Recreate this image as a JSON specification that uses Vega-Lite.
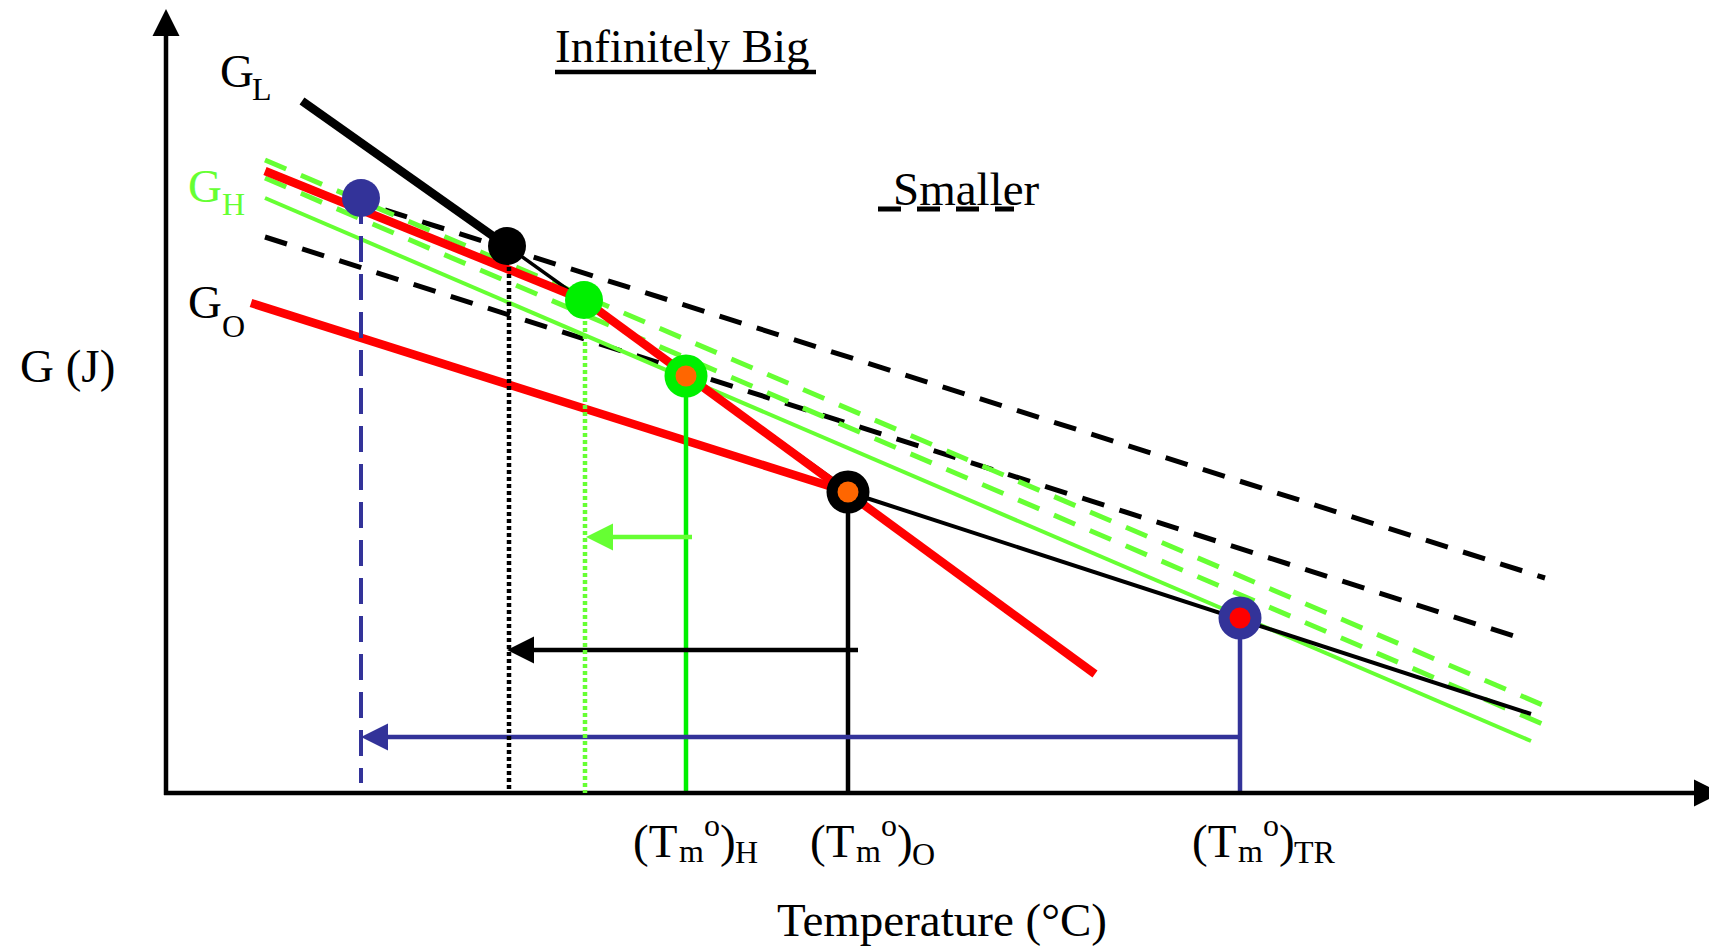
{
  "$schema": "https://vega.github.io/schema/vega-lite/v6.json",
  "width": 1709,
  "height": 948,
  "padding": 0,
  "autosize": {"type": "none"},
  "background": "white",
  "config": {"view": {"stroke": null}},
  "datasets": {
    "segs": [
      {"kind": "black", "line": "dash", "x": 385, "y": 210, "x2": 1545, "y2": 578},
      {"kind": "black", "line": "dash", "x": 265, "y": 237, "x2": 1520, "y2": 638},
      {"kind": "lgreen", "line": "dash", "x": 265, "y": 160, "x2": 1545, "y2": 706},
      {"kind": "lgreen", "line": "dash", "x": 265, "y": 178, "x2": 1545, "y2": 725},
      {"kind": "black", "line": "dash", "x": 878, "y": 209, "x2": 1014, "y2": 209},
      {"kind": "lgreen", "line": "solidA", "x": 265, "y": 198, "x2": 1531, "y2": 741},
      {"kind": "black", "line": "solidA", "x": 848, "y": 492, "x2": 1531, "y2": 714},
      {"kind": "black", "line": "fine", "x": 507, "y": 246, "x2": 848, "y2": 490},
      {"kind": "red", "line": "heavy", "x": 265, "y": 171, "x2": 584, "y2": 300},
      {"kind": "red", "line": "heavy", "x": 584, "y": 300, "x2": 1095, "y2": 674},
      {"kind": "red", "line": "heavy", "x": 251, "y": 303, "x2": 848, "y2": 492},
      {"kind": "black", "line": "heavy", "x": 302, "y": 101, "x2": 507, "y2": 246},
      {"kind": "green", "line": "solidB", "x": 686, "y": 376, "x2": 686, "y2": 793},
      {"kind": "black", "line": "solidB", "x": 848, "y": 492, "x2": 848, "y2": 793},
      {"kind": "blue", "line": "solidB", "x": 1240, "y": 618, "x2": 1240, "y2": 793},
      {"kind": "lgreen", "line": "solidB", "x": 692, "y": 537, "x2": 600, "y2": 537},
      {"kind": "black", "line": "solidB", "x": 858, "y": 650, "x2": 520, "y2": 650},
      {"kind": "blue", "line": "solidB", "x": 1240, "y": 737, "x2": 375, "y2": 737},
      {"kind": "black", "line": "solidB", "x": 166, "y": 795, "x2": 166, "y2": 30},
      {"kind": "black", "line": "solidB", "x": 164, "y": 793, "x2": 1700, "y2": 793},
      {"kind": "black", "line": "solidB", "x": 555, "y": 72, "x2": 816, "y2": 72},
      {"kind": "blue", "line": "longdash", "x": 361, "y": 198, "x2": 361, "y2": 783},
      {"kind": "black", "line": "dot", "x": 509, "y": 246, "x2": 509, "y2": 793},
      {"kind": "lgreen", "line": "dot", "x": 585, "y": 300, "x2": 585, "y2": 793}
    ],
    "dots": [
      {"kind": "blue", "x": 361, "y": 198},
      {"kind": "black", "x": 507, "y": 246},
      {"kind": "green", "x": 584, "y": 300}
    ],
    "rings": [
      {"kind": "green", "x": 686, "y": 376},
      {"kind": "black", "x": 848, "y": 492},
      {"kind": "blue", "x": 1240, "y": 618}
    ],
    "cores": [
      {"kind": "orange", "x": 686, "y": 376},
      {"kind": "orange", "x": 848, "y": 492},
      {"kind": "red", "x": 1240, "y": 618}
    ],
    "heads": [
      {"kind": "lgreen", "dir": "left", "x": 599.5, "y": 537},
      {"kind": "black", "dir": "left", "x": 520.5, "y": 650},
      {"kind": "blue", "dir": "left", "x": 374.5, "y": 737},
      {"kind": "black", "dir": "up", "x": 166, "y": 22.5},
      {"kind": "black", "dir": "right", "x": 1707.5, "y": 793}
    ],
    "mainText": [
      {"kind": "black", "x": 555, "y": 62, "text": "Infinitely Big"},
      {"kind": "black", "x": 893, "y": 205, "text": "Smaller"},
      {"kind": "black", "x": 220, "y": 87, "text": "G"},
      {"kind": "lgreen", "x": 188, "y": 202, "text": "G"},
      {"kind": "black", "x": 188, "y": 318, "text": "G"},
      {"kind": "black", "x": 20, "y": 382, "text": "G (J)"},
      {"kind": "black", "x": 633, "y": 857, "text": "(T"},
      {"kind": "black", "x": 720, "y": 857, "text": ")"},
      {"kind": "black", "x": 810, "y": 857, "text": "(T"},
      {"kind": "black", "x": 897, "y": 857, "text": ")"},
      {"kind": "black", "x": 1192, "y": 857, "text": "(T"},
      {"kind": "black", "x": 1279, "y": 857, "text": ")"},
      {"kind": "black", "x": 777, "y": 936, "text": "Temperature (°C)"}
    ],
    "subText": [
      {"kind": "black", "x": 252, "y": 100, "text": "L"},
      {"kind": "lgreen", "x": 222, "y": 215, "text": "H"},
      {"kind": "black", "x": 222, "y": 337, "text": "O"},
      {"kind": "black", "x": 679, "y": 862, "text": "m"},
      {"kind": "black", "x": 856, "y": 862, "text": "m"},
      {"kind": "black", "x": 1238, "y": 862, "text": "m"},
      {"kind": "black", "x": 704, "y": 836, "text": "o"},
      {"kind": "black", "x": 881, "y": 836, "text": "o"},
      {"kind": "black", "x": 1263, "y": 836, "text": "o"},
      {"kind": "black", "x": 735, "y": 863, "text": "H"},
      {"kind": "black", "x": 912, "y": 865, "text": "O"},
      {"kind": "black", "x": 1294, "y": 863, "text": "TR"}
    ]
  },
  "encoding": {
    "x": {"field": "x", "type": "quantitative", "scale": {"domain": [0, 1709], "nice": false, "zero": false}, "axis": null},
    "y": {"field": "y", "type": "quantitative", "scale": {"domain": [0, 948], "nice": false, "zero": false, "reverse": true}, "axis": null},
    "color": {
      "field": "kind", "type": "nominal", "legend": null,
      "scale": {"domain": ["black", "red", "lgreen", "green", "blue", "orange"], "range": ["#000000", "#ff0000", "#66ff33", "#00f000", "#333399", "#ff6600"]}
    }
  },
  "layer": [
    {"data": {"name": "segs"}, "transform": [{"filter": "datum.line == 'dash'"}],
     "mark": {"type": "rule", "strokeWidth": 5, "strokeDash": [23, 16]},
     "encoding": {"x2": {"field": "x2"}, "y2": {"field": "y2"}}},
    {"data": {"name": "segs"}, "transform": [{"filter": "datum.line == 'solidA'"}],
     "mark": {"type": "rule", "strokeWidth": 4},
     "encoding": {"x2": {"field": "x2"}, "y2": {"field": "y2"}}},
    {"data": {"name": "segs"}, "transform": [{"filter": "datum.line == 'fine'"}],
     "mark": {"type": "rule", "strokeWidth": 3.5},
     "encoding": {"x2": {"field": "x2"}, "y2": {"field": "y2"}}},
    {"data": {"name": "segs"}, "transform": [{"filter": "datum.line == 'heavy'"}],
     "mark": {"type": "rule", "strokeWidth": 8.5},
     "encoding": {"x2": {"field": "x2"}, "y2": {"field": "y2"}}},
    {"data": {"name": "segs"}, "transform": [{"filter": "datum.line == 'solidB'"}],
     "mark": {"type": "rule", "strokeWidth": 4.5},
     "encoding": {"x2": {"field": "x2"}, "y2": {"field": "y2"}}},
    {"data": {"name": "segs"}, "transform": [{"filter": "datum.line == 'longdash'"}],
     "mark": {"type": "rule", "strokeWidth": 4, "strokeDash": [26, 12]},
     "encoding": {"x2": {"field": "x2"}, "y2": {"field": "y2"}}},
    {"data": {"name": "segs"}, "transform": [{"filter": "datum.line == 'dot'"}],
     "mark": {"type": "rule", "strokeWidth": 4.5, "strokeDash": [4, 3]},
     "encoding": {"x2": {"field": "x2"}, "y2": {"field": "y2"}}},
    {"data": {"name": "dots"},
     "mark": {"type": "point", "shape": "circle", "filled": true, "opacity": 1, "size": 1444, "strokeWidth": 0}},
    {"data": {"name": "rings"},
     "mark": {"type": "point", "shape": "circle", "filled": true, "opacity": 1, "size": 1850, "strokeWidth": 0}},
    {"data": {"name": "cores"},
     "mark": {"type": "point", "shape": "circle", "filled": true, "opacity": 1, "size": 441, "strokeWidth": 0}},
    {"data": {"name": "heads"},
     "mark": {"type": "point", "filled": true, "opacity": 1, "size": 729, "strokeWidth": 0},
     "encoding": {"shape": {"field": "dir", "type": "nominal", "legend": null,
       "scale": {"domain": ["left", "up", "right"], "range": ["M-1,0L1,-1L1,1Z", "M0,-1L1,1L-1,1Z", "M1,0L-1,-1L-1,1Z"]}}}},
    {"data": {"name": "mainText"},
     "mark": {"type": "text", "align": "left", "baseline": "alphabetic", "font": "Liberation Serif", "fontSize": 47},
     "encoding": {"text": {"field": "text", "type": "nominal"}}},
    {"data": {"name": "subText"},
     "mark": {"type": "text", "align": "left", "baseline": "alphabetic", "font": "Liberation Serif", "fontSize": 32},
     "encoding": {"text": {"field": "text", "type": "nominal"}}}
  ]
}
